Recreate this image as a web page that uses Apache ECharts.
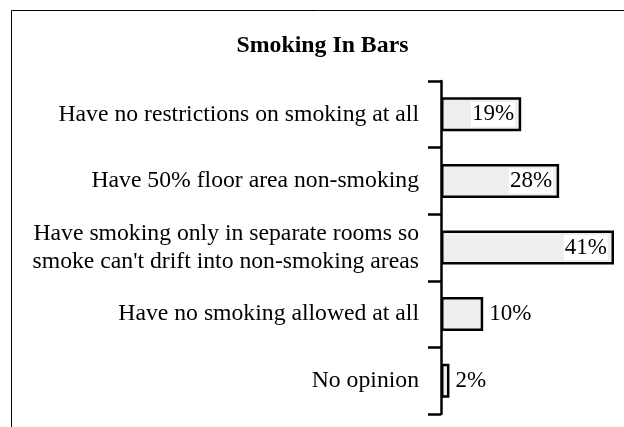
<!DOCTYPE html>
<html><head><meta charset="utf-8">
<script src="https://cdn.jsdelivr.net/npm/echarts@6/dist/echarts.min.js"></script>
<style>html,body{margin:0;padding:0;background:#fff}#c{width:624px;height:427px}</style>
</head><body><div id="c"></div>
<script>
var categories = [
  "Have no restrictions on smoking at all",
  "Have 50% floor area non-smoking",
  "Have smoking only in separate rooms so\nsmoke can't drift into non-smoking areas",
  "Have no smoking allowed at all",
  "No opinion"
];
var values = [19, 28, 41, 10, 2];
var insideLabel = [true, true, true, false, false];
var titleText = "Smoking In Bars";

var FONT = "'Liberation Serif', 'Times New Roman', serif";
var data = values.map(function (v, i) {
  return {
    value: v,
    label: insideLabel[i]
      ? { position: 'insideRight', backgroundColor: '#fff', padding: [2, 1, 0, 1], distance: 6 }
      : { position: 'right', distance: 6 }
  };
});
var catData = categories.map(function (c) {
  return c.indexOf('\n') >= 0 ? { value: c, textStyle: { padding: [6, 0, 0, 0] } } : c;
});

var chart = echarts.init(document.getElementById('c'), null, { renderer: 'canvas' });
chart.setOption({
  animation: false,
  title: {
    text: titleText, left: 317.5, top: 29, textAlign: 'center',
    textStyle: { fontFamily: FONT, fontWeight: 'bold', fontSize: 23.8, color: '#000' }
  },
  graphic: [{
    type: 'rect', shape: { x: 11.5, y: 10.5, width: 700, height: 500 },
    style: { fill: 'none', stroke: '#000', lineWidth: 1 }, silent: true
  }],
  grid: { left: 441, right: 10, top: 81, bottom: 13, containLabel: false },
  xAxis: {
    type: 'value', min: 0, max: 41, show: false
  },
  yAxis: {
    type: 'category', inverse: true, data: catData,
    axisLine: { show: true, lineStyle: { color: '#000', width: 2.5 } },
    axisTick: { show: true, length: 13, lineStyle: { color: '#000', width: 2.5 } },
    axisLabel: {
      margin: 22, color: '#000', fontFamily: FONT, fontSize: 23.7, lineHeight: 28,
      align: 'right'
    },
    splitLine: { show: false }
  },
  series: [{
    type: 'bar', data: data, barWidth: '51%',
    itemStyle: { color: '#eeeeee', borderColor: '#000', borderWidth: 2.5 },
    label: {
      show: true, formatter: '{c}%', color: '#000', fontFamily: FONT, fontSize: 23
    }
  }]
});
</script></body></html>
